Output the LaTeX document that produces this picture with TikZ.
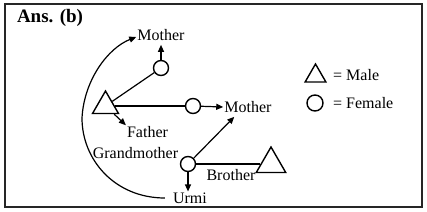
\documentclass[tikz,border=0pt]{standalone}
\usepackage{fontspec}
\setmainfont{Liberation Serif}
\usepackage{tikz}
\usetikzlibrary{shapes.geometric,arrows.meta}

\tikzset{
  male/.style={regular polygon, regular polygon sides=3, draw, line width=1.4pt, inner sep=0pt},
  female/.style={circle, draw, line width=1.4pt, inner sep=0pt, minimum size=15pt},
  lbl/.style={font=\fontsize{16}{18}\selectfont, inner sep=1pt},
  arr/.style={-{Triangle[length=7pt,width=6pt]}, line width=1.2pt},
  link/.style={line width=1.2pt}
}

\begin{document}
\begin{tikzpicture}[x=1pt, y=-1pt]
    \useasboundingbox (0,0) rectangle (427,211);
    % Frame
    \draw[line width=1.6pt, black!85] (5,4) rectangle (422,207);
    \node[font=\bfseries\fontsize{19}{22}\selectfont, inner sep=0pt] (title) at (50,18) {Ans. (b)};

    % Family members
    \node[male, minimum size=30pt] (m1) at (105.5,106) {};
    \node[female] (f1) at (161,68) {};
    \node[female] (f2) at (193,106) {};
    \node[female] (f3) at (188,164) {};
    \node[male, minimum size=34pt] (m2) at (271,164) {};

    % Labels
    \node[lbl] (mo1) at (161,35) {Mother};
    \node[lbl] (mo2) at (248,107) {Mother};
    \node[lbl] (fa) at (147.5,132) {Father};
    \node[lbl] (gm) at (135.5,153) {Grandmother};
    \node[lbl] (br) at (231,175) {Brother};
    \node[lbl] (ur) at (190,198) {Urmi};

    % Relations
    \draw[link] (m1) -- (f1);
    \draw[arr, shorten >=3pt] (f1) -- (f1 |- mo1.south);
    \draw[link] (m1) -- (f2);
    \draw[arr] (f2) -- (mo2.west);
    \draw[arr] (m1) -- (fa.north west);
    \draw[arr] (f3) -- ([xshift=11pt,yshift=-3pt]mo2.south west);
    \draw[arr] (f3) -- (f3 |- ur.north);
    \draw[link] (f3) -- (m2);

    % Urmi back to Mother
    \coordinate (bend) at (82,118);
    \draw[arr, shorten <=7pt] (ur.west) .. controls (115,198) and (82,160) .. (bend)
        .. controls (84,80) and (108,48) .. ([yshift=-2pt]mo1.west);

    % Legend
    \node[male, minimum size=24pt] (keym) at (315.5,76) {};
    \node[female, minimum size=16pt] (keyf) at (315,103) {};
    \node[lbl, anchor=west] (keymt) at (332,75) {= Male};
    \node[lbl, anchor=west] (keyft) at (332,103) {= Female};
\end{tikzpicture}
\end{document}
